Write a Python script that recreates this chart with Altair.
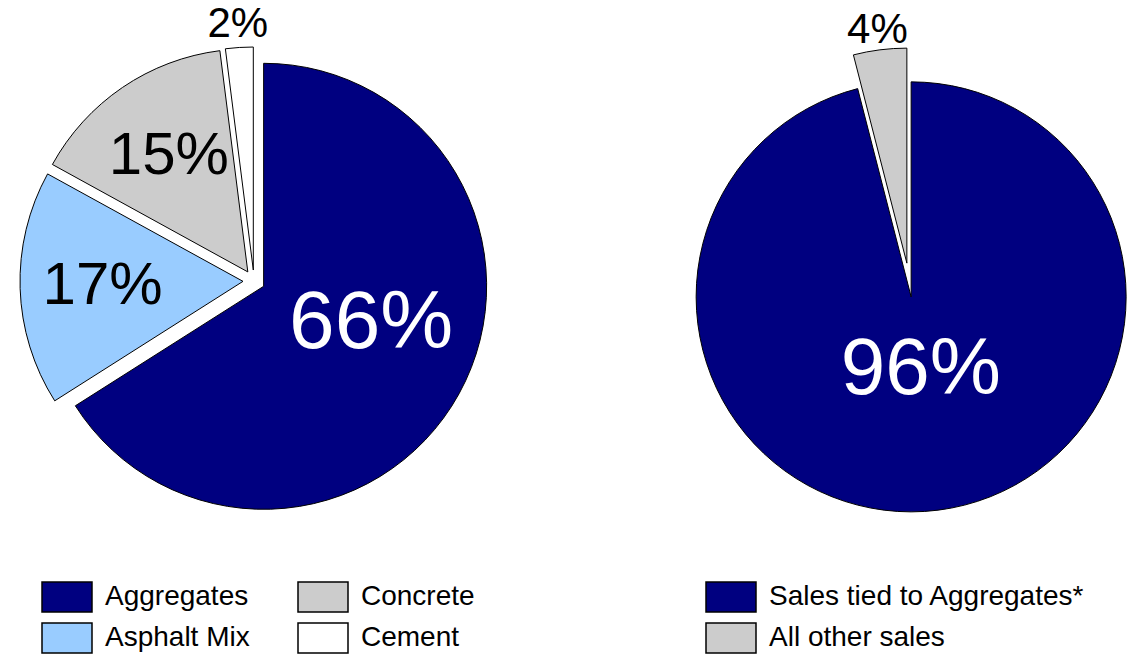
import math
import altair as alt
import pandas as pd

# ---- data ----
left_categories = ["Aggregates", "Asphalt Mix", "Concrete", "Cement"]
left_values = [66, 17, 15, 2]
left_colors = ["#000080", "#99CCFF", "#CCCCCC", "#FFFFFF"]

right_categories = ["Sales tied to Aggregates*", "All other sales"]
right_values = [96, 4]
right_colors = ["#000080", "#CCCCCC"]

# ---- layout ----
W, H = 1136, 655
FONT = "Liberation Sans"
pies = [
    dict(cats=left_categories, vals=left_values, cols=left_colors,
         cx=254, cy=281, r=223, explode=11, label_in=0.55, big_dy=-22,
         label_out=24, big=82),
    dict(cats=right_categories, vals=right_values, cols=right_colors,
         cx=909, cy=280, r=215, explode=17, label_in=0.36, big_dy=-4,
         label_out=20, big=80),
]

slice_rows = []
for p in pies:
    total = sum(p["vals"])
    acc = 0.0
    for c, v, col in zip(p["cats"], p["vals"], p["cols"]):
        a0 = 2 * math.pi * acc / total
        acc += v
        a1 = 2 * math.pi * acc / total
        mid = (a0 + a1) / 2
        dx, dy = math.sin(mid), -math.cos(mid)
        sx = p["cx"] + p["explode"] * dx
        sy = p["cy"] + p["explode"] * dy
        frac = v / total
        ady = 0
        if frac >= 0.5:
            lr, fs, ady = p["label_in"] * p["r"], p["big"], p["big_dy"]
        elif frac >= 0.05:
            lr, fs = 0.63 * p["r"], 60
        else:
            lr, fs = p["r"] + p["label_out"], 42
        slice_rows.append(dict(
            category=c, value=v, start=a0, end=a1, x=sx, y=sy, r=p["r"],
            color=col, label=f"{round(100 * frac)}%",
            lx=sx + lr * dx, ly=sy + lr * dy + ady, fs=fs,
            tcolor="#FFFFFF" if col == "#000080" else "#000000",
        ))
slices = pd.DataFrame(slice_rows)

# legend layout
legend_rows = []
groups = [
    (left_categories, left_colors, [42, 298]),
    (right_categories, right_colors, [706]),
]
for cats, cols, col_x in groups:
    for i, (c, col) in enumerate(zip(cats, cols)):
        row = i % 2
        cx = col_x[i // 2]
        yc = 597 + row * 41
        legend_rows.append(dict(label=c, color=col, x0=cx, x1=cx + 50,
                                y0=yc - 15, y1=yc + 15, tx=cx + 63, ty=yc))
legend = pd.DataFrame(legend_rows)

base = alt.Chart(slices)
arcs = base.mark_arc(stroke="black", strokeWidth=1).encode(
    theta=alt.Theta("start:Q", scale=None, stack=None),
    theta2="end:Q",
    radius=alt.Radius("r:Q", scale=None),
    x=alt.X("x:Q", scale=None, axis=None),
    y=alt.Y("y:Q", scale=None, axis=None),
    fill=alt.Fill("color:N", scale=None),
)
labels = base.mark_text(font=FONT, align="center", baseline="middle").encode(
    x=alt.X("lx:Q", scale=None, axis=None),
    y=alt.Y("ly:Q", scale=None, axis=None),
    text="label:N",
    size=alt.Size("fs:Q", scale=None),
    fill=alt.Fill("tcolor:N", scale=None),
)

lbase = alt.Chart(legend)
boxes = lbase.mark_rect(stroke="black", strokeWidth=1.5).encode(
    x=alt.X("x0:Q", scale=None, axis=None), x2="x1:Q",
    y=alt.Y("y0:Q", scale=None, axis=None), y2="y1:Q",
    fill=alt.Fill("color:N", scale=None),
)
ltext = lbase.mark_text(font=FONT, fontSize=28, align="left", baseline="middle", color="black").encode(
    x=alt.X("tx:Q", scale=None, axis=None),
    y=alt.Y("ty:Q", scale=None, axis=None),
    text="label:N",
)

chart = alt.layer(arcs, labels, boxes, ltext).properties(
    width=W, height=H, padding=0, autosize="none", background="white"
).configure_view(stroke=None)

chart.save("out.html", embed_options={"renderer": "svg", "actions": False})
